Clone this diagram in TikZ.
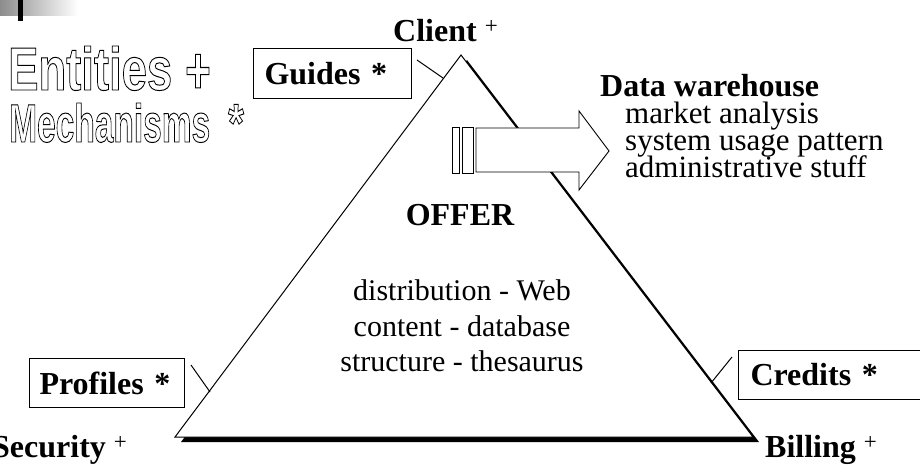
\documentclass[tikz,border=0pt]{standalone}
\usepackage{fontspec}
\setmainfont{Liberation Serif}
\newfontfamily\titlefont{Liberation Sans}
\newcommand\outl[1]{\special{pdf:literal direct 1 Tr 1 w}#1\special{pdf:literal direct 0 Tr}}
\newcommand\supplus{\raisebox{8pt}{\fontsize{23}{23}\selectfont\mdseries +}}
\begin{document}
\begin{tikzpicture}[x=1pt,y=-1pt,
  bt/.style={font=\fontsize{32}{32}\selectfont\bfseries, inner sep=0pt, anchor=base west},
  rt/.style={font=\fontsize{31}{31}\selectfont, inner sep=0pt, anchor=base west},
  ct/.style={font=\fontsize{30}{30}\selectfont, inner sep=0pt, anchor=base},
  labelbox/.style={draw, fill=white, line width=1pt, anchor=north west,
    font=\fontsize{32}{32}\selectfont\bfseries, align=left, inner ysep=0pt},
  thin/.style={line width=1pt},
  ttl/.style={inner sep=0pt, anchor=base west}]
\useasboundingbox (0,0) rectangle (920,473);
\clip (0,0) rectangle (920,473);
% corner decoration
\shade[left color=black!45, right color=white] (0,0) rectangle (78,16);
\fill (18,0) rectangle (23,21);
% title
\node[ttl] (ent) at (8,90) {\outl{\resizebox{164pt}{44pt}{\titlefont\bfseries\fontsize{62}{62}\selectfont Entities}}};
\node[ttl] (entp) at (185,93) {\outl{\scalebox{0.72}[1.08]{\titlefont\bfseries\fontsize{61}{61}\selectfont +}}};
\node[ttl] (mech) at (9,142) {\outl{\resizebox{201pt}{39pt}{\titlefont\bfseries\fontsize{55}{55}\selectfont Mechanisms}}};
\node[ttl] (mechs) at (228,141) {\outl{\scalebox{0.72}[0.95]{\titlefont\bfseries\fontsize{56}{56}\selectfont *}}};
% triangle with shadow
\coordinate (A) at (461,55);
\coordinate (L) at (175,437);
\coordinate (R) at (753,437);
\fill ([shift={(6,5)}]A) -- ([shift={(6,5)}]L) -- ([shift={(6,5)}]R) -- cycle;
\draw[thin, fill=white] (A) -- (L) -- (R) -- cycle;
% boxes
\node[labelbox, text width=136pt, inner xsep=11pt, minimum height=50pt] (guides) at (253,48) {Guides *};
\node[labelbox, text width=135pt, inner xsep=10pt, minimum height=49pt] (profiles) at (29,358) {Profiles *};
\node[labelbox, text width=176pt, inner xsep=12pt, minimum height=49pt] (credits) at (738,350) {Credits *};
% ticks
\coordinate (g1) at (417,60);  \coordinate (g2) at (443,78);
\coordinate (p1) at (191,365); \coordinate (p2) at (210,392);
\coordinate (c1) at (732,357); \coordinate (c2) at (711,383);
\draw[thin] (g1) -- (g2);
\draw[thin] (p1) -- (p2);
\draw[thin] (c1) -- (c2);
% block arrow
\draw[line width=0.9pt, fill=white] (476,128) -- (579,128) -- (579,111) -- (609,151) -- (579,190) -- (579,172) -- (476,172) -- cycle;
\draw[line width=0.9pt, fill=white] (452,127) rectangle (459,173);
\draw[line width=0.9pt, fill=white] (462,127) rectangle (473,173);
% vertex labels
\node[bt] (client) at (393,42) {Client \supplus};
\node[bt] (security) at (-8,457) {Security \supplus};
\node[bt] (billing) at (765,457) {Billing \supplus};
% data warehouse
\node[bt] (dw) at (600,97) {Data warehouse};
\node[rt] (dw1) at (625,124) {market analysis};
\node[rt] (dw2) at (625,151) {system usage pattern};
\node[rt] (dw3) at (625,178) {administrative stuff};
% offer
\node[bt, anchor=base] (offer) at (460,225) {OFFER};
\node[ct] (o1) at (462,300) {distribution - Web};
\node[ct] (o2) at (462,336) {content - database};
\node[ct] (o3) at (462,371) {structure - thesaurus};
\end{tikzpicture}
\end{document}
